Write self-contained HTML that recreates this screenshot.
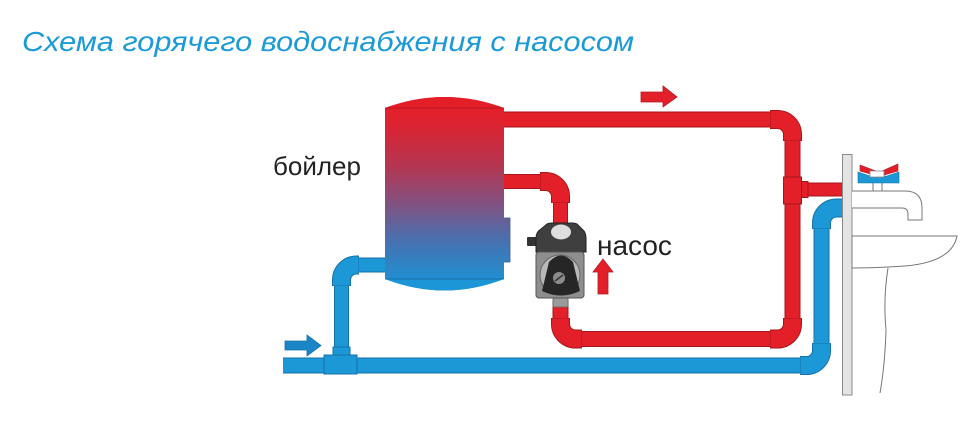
<!DOCTYPE html>
<html>
<head>
<meta charset="utf-8">
<style>
  html,body{margin:0;padding:0;background:#ffffff;}
  svg{display:block;}
</style>
</head>
<body>
<svg width="970" height="421" viewBox="0 0 970 421" xmlns="http://www.w3.org/2000/svg">
  <defs>
    <linearGradient id="boil" gradientUnits="userSpaceOnUse" x1="0" y1="100" x2="0" y2="285">
      <stop offset="0" stop-color="#e41f27"/>
      <stop offset="0.12" stop-color="#de2230"/>
      <stop offset="0.35" stop-color="#b63550"/>
      <stop offset="0.55" stop-color="#85507e"/>
      <stop offset="0.75" stop-color="#4a6fae"/>
      <stop offset="1" stop-color="#1a93d6"/>
    </linearGradient>
  </defs>
  <rect width="970" height="421" fill="#ffffff"/>

  <!-- Title -->
  <text x="22" y="51" font-family="Liberation Sans, Arial, sans-serif" font-style="italic" font-size="28" fill="#1b9ad6" textLength="612" lengthAdjust="spacingAndGlyphs">Схема горячего водоснабжения с насосом</text>

  <!-- Labels -->
  <text x="273" y="175" font-family="Liberation Sans, Arial, sans-serif" font-size="26" fill="#222">бойлер</text>
  <text x="597" y="255" font-family="Liberation Sans, Arial, sans-serif" font-size="28" fill="#222">насос</text>

  <!-- ===== HOT PIPES ===== -->
  <g fill="none" stroke-linecap="butt" stroke-linejoin="round">
    <path d="M 504 119.5 H 777.5 A 15 15 0 0 1 792.5 134.5 V 324 A 15 15 0 0 1 777.5 339 H 575.5 A 15 15 0 0 1 560.5 324 V 300" stroke="#a5161c" stroke-width="16"/>
    <path d="M 504 119.5 H 777.5 A 15 15 0 0 1 792.5 134.5 V 324 A 15 15 0 0 1 777.5 339 H 575.5 A 15 15 0 0 1 560.5 324 V 300" stroke="#e3202a" stroke-width="14"/>
    <path d="M 504 181.5 H 545.5 A 15 15 0 0 1 560.5 196.5 V 226" stroke="#a5161c" stroke-width="15"/>
    <path d="M 504 181.5 H 545.5 A 15 15 0 0 1 560.5 196.5 V 226" stroke="#e3202a" stroke-width="13"/>
    <path d="M 792 189.5 H 843" stroke="#a5161c" stroke-width="14"/>
    <path d="M 792 189.5 H 843" stroke="#e3202a" stroke-width="12"/>

    <!-- elbows -->
    <g stroke="#a5161c" stroke-width="19">
      <path d="M 770 119.5 H 777.5 A 15 15 0 0 1 792.5 134.5 V 141"/>
      <path d="M 792.5 318 V 324 A 15 15 0 0 1 777.5 339 H 770"/>
      <path d="M 582 339 H 575.5 A 15 15 0 0 1 560.5 324 V 318"/>
      <path d="M 540 181.5 H 545.5 A 15 15 0 0 1 560.5 196.5 V 203"/>
    </g>
    <g stroke="#e3202a" stroke-width="17">
      <path d="M 770.5 119.5 H 777.5 A 15 15 0 0 1 792.5 134.5 V 140.5"/>
      <path d="M 792.5 318.5 V 324 A 15 15 0 0 1 777.5 339 H 770.5"/>
      <path d="M 581.5 339 H 575.5 A 15 15 0 0 1 560.5 324 V 318.5"/>
      <path d="M 540.5 181.5 H 545.5 A 15 15 0 0 1 560.5 196.5 V 202.5"/>
    </g>
  </g>
  <!-- hot tee -->
  <rect x="800" y="181.5" width="8" height="16" fill="#e3202a" stroke="#a5161c" stroke-width="1"/>
  <rect x="783.5" y="177" width="18" height="27" fill="#e3202a" stroke="#a5161c" stroke-width="1"/>

  <!-- ===== COLD PIPES ===== -->
  <g fill="none" stroke-linecap="butt" stroke-linejoin="round">
    <path d="M 283 365.5 H 806.5 A 15 15 0 0 0 821.5 350.5 V 223 A 15 15 0 0 1 836.5 208 H 843" stroke="#1671a8" stroke-width="16"/>
    <path d="M 283 365.5 H 806.5 A 15 15 0 0 0 821.5 350.5 V 223 A 15 15 0 0 1 836.5 208 H 843" stroke="#1c98d6" stroke-width="14"/>
    <path d="M 341.5 366 V 280 A 15 15 0 0 1 356.5 265 H 386" stroke="#1671a8" stroke-width="15"/>
    <path d="M 341.5 366 V 280 A 15 15 0 0 1 356.5 265 H 386" stroke="#1c98d6" stroke-width="13"/>

    <g stroke="#1671a8" stroke-width="19">
      <path d="M 800 365.5 H 806.5 A 15 15 0 0 0 821.5 350.5 V 343"/>
      <path d="M 821.5 229 V 223 A 15 15 0 0 1 836.5 208 H 842"/>
      <path d="M 341.5 286 V 280 A 15 15 0 0 1 356.5 265 H 359"/>
    </g>
    <g stroke="#1c98d6" stroke-width="17">
      <path d="M 800.5 365.5 H 806.5 A 15 15 0 0 0 821.5 350.5 V 343.5"/>
      <path d="M 821.5 228.5 V 223 A 15 15 0 0 1 836.5 208 H 842"/>
      <path d="M 341.5 285.5 V 280 A 15 15 0 0 1 356.5 265 H 358.5"/>
    </g>
  </g>
  <!-- cold tee -->
  <rect x="333" y="347" width="17" height="10" fill="#1c98d6" stroke="#1671a8" stroke-width="1"/>
  <rect x="324" y="355" width="33" height="19" fill="#1c98d6" stroke="#1671a8" stroke-width="1"/>

  <!-- ===== BOILER ===== -->
  <rect x="503" y="218" width="7" height="44" fill="url(#boil)" stroke="#3a5f98" stroke-width="0.8"/>
  <path d="M 385 108 Q 444.5 86 504 108 L 504 279 Q 444.5 302 385 279 Z" fill="url(#boil)"/>
  <path d="M 385 108 Q 444.5 86 504 108 Z" fill="#e31e26"/>
  <path d="M 385 279 Q 444.5 302 504 279 Z" fill="#1d96d8"/>
  <line x1="385" y1="108" x2="504" y2="108" stroke="#b81820" stroke-width="1"/>
  <line x1="385" y1="279" x2="504" y2="279" stroke="#1670a8" stroke-width="1"/>

  <!-- ===== PUMP ===== -->
  <rect x="553" y="297" width="15" height="10" fill="#9a9a9a" stroke="#666" stroke-width="0.8"/>
  <rect x="527" y="237" width="10" height="9" rx="1" fill="#333"/>
  <path d="M 536 252 L 536 238 Q 536 232 541 229 L 547 224 Q 549 223 552 223 L 572 223 Q 575 223 577 224 L 582 229 Q 586 232 586 238 L 586 252 Z" fill="#3f3f3f" stroke="#222" stroke-width="1"/>
  <ellipse cx="561" cy="232" rx="10" ry="7.5" fill="#dedede"/>
  <rect x="536" y="252" width="48" height="46" rx="3" fill="#8e8e8e" stroke="#555" stroke-width="1"/>
  <circle cx="560" cy="275" r="20" fill="#b8b8b8" stroke="#666" stroke-width="1"/>
  <path d="M 549 262 Q 561 249 573 262 L 580 291 Q 561 300 542 291 Z" fill="#262626"/>
  <circle cx="559" cy="278" r="6" fill="#8c8c8c"/>
  <line x1="555" y1="281" x2="563" y2="275" stroke="#333" stroke-width="1.5"/>

  <!-- ===== ARROWS ===== -->
  <polygon points="641,92 663,92 663,86 677,97 663,107 663,102 641,102" fill="#e3202a" stroke="#b51a20" stroke-width="0.8"/>
  <polygon points="598,294 598,272 593,272 603,259 613,272 608,272 608,294" fill="#e3202a" stroke="#b51a20" stroke-width="0.8"/>
  <polygon points="285,341 307,341 307,335 321,345.5 307,356 307,350 285,350" fill="#1a86c8" stroke="#1671a8" stroke-width="0.8"/>

  <!-- ===== WALL ===== -->
  <rect x="842.5" y="154.5" width="9.5" height="240.5" fill="#e4e4e4" stroke="#8a8a8a" stroke-width="1"/>

  <!-- ===== FAUCET ===== -->
  <rect x="873" y="182" width="9" height="9" fill="#fff" stroke="#777" stroke-width="1"/>
  <path d="M 858 172 L 870 176 L 887 176 L 899 172 L 899 183 L 858 183 Z" fill="#1c98d6" stroke="#1671a8" stroke-width="0.6"/>
  <path d="M 860 165 L 876 171 L 874 175 L 860 171 Z" fill="#e3202a" stroke="#a5161c" stroke-width="0.6"/>
  <path d="M 898 164 L 898 171 L 884 175 L 882 171 Z" fill="#e3202a" stroke="#a5161c" stroke-width="0.6"/>
  <rect x="870" y="171" width="14" height="6" fill="#fff" stroke="#888" stroke-width="0.8"/>
  <path d="M 852 191 H 905 Q 922 191 922 208 V 220 H 908 V 214 Q 908 208 902 208 H 852" fill="#fff" stroke="#777" stroke-width="1"/>

  <!-- ===== SINK ===== -->
  <path d="M 852 236 H 957 Q 952 262 905 266 Q 875 268 852 268 Z" fill="#fff" stroke="#777" stroke-width="1"/>
  <path d="M 888 268 Q 883 300 886 330 Q 885 365 880 393" fill="none" stroke="#777" stroke-width="1"/>
</svg>
</body>
</html>
